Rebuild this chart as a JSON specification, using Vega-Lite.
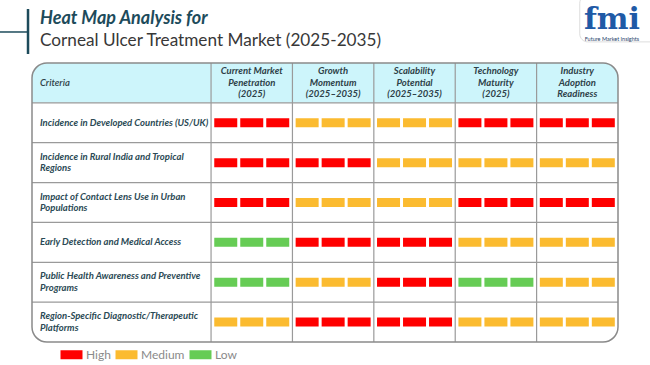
{
  "$schema": "https://vega.github.io/schema/vega-lite/v6.json",
  "width": 586,
  "height": 279,
  "autosize": "none",
  "padding": {"left": 32, "top": 63, "right": 32, "bottom": 23},
  "background": "white",
  "config": {"view": {"stroke": null}},
  "datasets": {
    "one": [{}],
    "rows": [
      {"r": 1, "criteria": "Incidence in Developed Countries (US/UK)"},
      {"r": 2, "criteria": "Incidence in Rural India and Tropical\nRegions"},
      {"r": 3, "criteria": "Impact of Contact Lens Use in Urban\nPopulations"},
      {"r": 4, "criteria": "Early Detection and Medical Access"},
      {"r": 5, "criteria": "Public Health Awareness and Preventive\nPrograms"},
      {"r": 6, "criteria": "Region-Specific Diagnostic/Therapeutic\nPlatforms"}
    ],
    "cols": [
      {"c": 1, "label": "Current Market\nPenetration\n(2025)"},
      {"c": 2, "label": "Growth\nMomentum\n(2025–2035)"},
      {"c": 3, "label": "Scalability\nPotential\n(2025–2035)"},
      {"c": 4, "label": "Technology\nMaturity\n(2025)"},
      {"c": 5, "label": "Industry\nAdoption\nReadiness"}
    ],
    "cells": [
      {"r": 1, "c": 1, "level": "High"},
      {"r": 1, "c": 2, "level": "Medium"},
      {"r": 1, "c": 3, "level": "Medium"},
      {"r": 1, "c": 4, "level": "High"},
      {"r": 1, "c": 5, "level": "High"},
      {"r": 2, "c": 1, "level": "High"},
      {"r": 2, "c": 2, "level": "High"},
      {"r": 2, "c": 3, "level": "Medium"},
      {"r": 2, "c": 4, "level": "Medium"},
      {"r": 2, "c": 5, "level": "Medium"},
      {"r": 3, "c": 1, "level": "High"},
      {"r": 3, "c": 2, "level": "Medium"},
      {"r": 3, "c": 3, "level": "Medium"},
      {"r": 3, "c": 4, "level": "High"},
      {"r": 3, "c": 5, "level": "High"},
      {"r": 4, "c": 1, "level": "Low"},
      {"r": 4, "c": 2, "level": "High"},
      {"r": 4, "c": 3, "level": "High"},
      {"r": 4, "c": 4, "level": "Medium"},
      {"r": 4, "c": 5, "level": "Medium"},
      {"r": 5, "c": 1, "level": "Low"},
      {"r": 5, "c": 2, "level": "Medium"},
      {"r": 5, "c": 3, "level": "High"},
      {"r": 5, "c": 4, "level": "Low"},
      {"r": 5, "c": 5, "level": "Medium"},
      {"r": 6, "c": 1, "level": "Medium"},
      {"r": 6, "c": 2, "level": "High"},
      {"r": 6, "c": 3, "level": "High"},
      {"r": 6, "c": 4, "level": "Medium"},
      {"r": 6, "c": 5, "level": "Medium"}
    ]
  },
  "layer": [
    {
      "data": {"name": "one"},
      "mark": {"type": "rect", "fill": "#cdf5fb", "cornerRadiusTopLeft": 15, "cornerRadiusTopRight": 15},
      "encoding": {
        "x": {"datum": 0, "type": "quantitative", "scale": {"domain": [0, 7.2], "nice": false, "zero": false}, "axis": null},
        "x2": {"datum": 7.2},
        "y": {"datum": 0, "type": "quantitative", "scale": {"domain": [0, 7], "nice": false, "zero": false, "reverse": true}, "axis": null},
        "y2": {"datum": 1}
      }
    },
    {
      "data": {"name": "rows"},
      "mark": {"type": "rule", "color": "#9a9a9a", "strokeWidth": 1.2},
      "encoding": {
        "x": {"datum": 0, "type": "quantitative", "scale": {"domain": [0, 7.2], "nice": false, "zero": false}, "axis": null},
        "x2": {"datum": 7.2},
        "y": {"field": "r", "type": "quantitative", "scale": {"domain": [0, 7], "nice": false, "zero": false, "reverse": true}, "axis": null}
      }
    },
    {
      "data": {"name": "cols"},
      "transform": [{"calculate": "1.2 + datum.c", "as": "xs"}],
      "mark": {"type": "rule", "color": "#9a9a9a", "strokeWidth": 1.2},
      "encoding": {
        "x": {"field": "xs", "type": "quantitative", "scale": {"domain": [0, 7.2], "nice": false, "zero": false}, "axis": null},
        "y": {"datum": 0, "type": "quantitative", "scale": {"domain": [0, 7], "nice": false, "zero": false, "reverse": true}, "axis": null},
        "y2": {"datum": 7}
      }
    },
    {
      "data": {"name": "one"},
      "mark": {"type": "rect", "fillOpacity": 0, "stroke": "#8a8a8a", "strokeWidth": 1.5, "cornerRadius": 15},
      "encoding": {
        "x": {"datum": 0, "type": "quantitative", "scale": {"domain": [0, 7.2], "nice": false, "zero": false}, "axis": null},
        "x2": {"datum": 7.2},
        "y": {"datum": 0, "type": "quantitative", "scale": {"domain": [0, 7], "nice": false, "zero": false, "reverse": true}, "axis": null},
        "y2": {"datum": 7}
      }
    },
    {
      "data": {"name": "cols"},
      "transform": [{"calculate": "1.7 + datum.c", "as": "xc"}],
      "mark": {"type": "text", "font": "Lato", "fontSize": 9.5, "fontStyle": "italic", "fontWeight": "bold", "color": "#2e4148", "align": "center", "baseline": "middle", "lineBreak": "\n", "lineHeight": 11.5, "dy": -11.5},
      "encoding": {
        "x": {"field": "xc", "type": "quantitative", "scale": {"domain": [0, 7.2], "nice": false, "zero": false}, "axis": null},
        "y": {"datum": 0.5, "type": "quantitative", "scale": {"domain": [0, 7], "nice": false, "zero": false, "reverse": true}, "axis": null},
        "text": {"field": "label"}
      }
    },
    {
      "data": {"name": "one"},
      "mark": {"type": "text", "text": "Criteria", "font": "Lato", "fontSize": 9.5, "fontStyle": "italic", "fontWeight": 600, "color": "#2e4148", "align": "left", "baseline": "middle", "dx": 8},
      "encoding": {
        "x": {"datum": 0, "type": "quantitative", "scale": {"domain": [0, 7.2], "nice": false, "zero": false}, "axis": null},
        "y": {"datum": 0.5, "type": "quantitative", "scale": {"domain": [0, 7], "nice": false, "zero": false, "reverse": true}, "axis": null}
      }
    },
    {
      "data": {"name": "rows"},
      "transform": [{"calculate": "datum.r + 0.5 - (length(split(datum.criteria, '\\n')) - 1) * 0.1443", "as": "yc"}],
      "mark": {"type": "text", "font": "Lato", "fontSize": 9.5, "fontStyle": "italic", "fontWeight": "bold", "color": "#2b4a55", "align": "left", "baseline": "middle", "dx": 8, "lineBreak": "\n", "lineHeight": 11.5},
      "encoding": {
        "x": {"datum": 0, "type": "quantitative", "scale": {"domain": [0, 7.2], "nice": false, "zero": false}, "axis": null},
        "y": {"field": "yc", "type": "quantitative", "scale": {"domain": [0, 7], "nice": false, "zero": false, "reverse": true}, "axis": null},
        "text": {"field": "criteria"}
      }
    },
    {
      "data": {"name": "cells"},
      "transform": [
        {"calculate": "1.7 + datum.c - 0.4607", "as": "x1"},
        {"calculate": "1.7 + datum.c + 0.4607", "as": "x2"},
        {"calculate": "datum.r + 0.5", "as": "yc"}
      ],
      "mark": {"type": "rule", "strokeWidth": 9, "strokeDash": [23, 3], "strokeCap": "butt", "opacity": 1},
      "encoding": {
        "x": {"field": "x1", "type": "quantitative", "scale": {"domain": [0, 7.2], "nice": false, "zero": false}, "axis": null},
        "x2": {"field": "x2"},
        "y": {"field": "yc", "type": "quantitative", "scale": {"domain": [0, 7], "nice": false, "zero": false, "reverse": true}, "axis": null},
        "color": {
          "field": "level",
          "type": "nominal",
          "scale": {"domain": ["High", "Medium", "Low"], "range": ["#ff0000", "#fbbb30", "#66cc55"]},
          "legend": {
            "title": null,
            "orient": "none",
            "legendX": 24,
            "legendY": 276,
            "direction": "horizontal",
            "symbolType": "stroke",
            "symbolSize": 484,
            "symbolStrokeWidth": 9,
            "symbolOpacity": 1,
            "labelFont": "Lato",
            "labelFontSize": 12,
            "labelColor": "#8a8a8a",
            "labelOffset": -1,
            "columnPadding": -15,
            "padding": 0
          }
        }
      }
    },
    {
      "data": {"name": "one"},
      "mark": {"type": "rule", "color": "#1d4b5b", "strokeWidth": 2.5},
      "encoding": {
        "x": {"datum": -0.049, "type": "quantitative", "scale": {"domain": [0, 7.2], "nice": false, "zero": false}, "axis": null},
        "y": {"datum": -1.355, "type": "quantitative", "scale": {"domain": [0, 7], "nice": false, "zero": false, "reverse": true}, "axis": null},
        "y2": {"datum": -0.226}
      }
    },
    {
      "data": {"name": "one"},
      "mark": {"type": "rule", "color": "#1d4b5b", "strokeWidth": 1.5},
      "encoding": {
        "x": {"datum": -0.4, "type": "quantitative", "scale": {"domain": [0, 7.2], "nice": false, "zero": false}, "axis": null},
        "x2": {"datum": -0.049},
        "y": {"datum": -0.778, "type": "quantitative", "scale": {"domain": [0, 7], "nice": false, "zero": false, "reverse": true}, "axis": null}
      }
    },
    {
      "data": {"name": "one"},
      "mark": {"type": "text", "text": "Heat Map Analysis for", "font": "Lato", "fontSize": 18, "fontStyle": "italic", "fontWeight": "bold", "color": "#1d4b5b", "align": "left", "baseline": "alphabetic", "dx": 8},
      "encoding": {
        "x": {"datum": 0, "type": "quantitative", "scale": {"domain": [0, 7.2], "nice": false, "zero": false}, "axis": null},
        "y": {"datum": -0.98, "type": "quantitative", "scale": {"domain": [0, 7], "nice": false, "zero": false, "reverse": true}, "axis": null}
      }
    },
    {
      "data": {"name": "one"},
      "mark": {"type": "text", "text": "Corneal Ulcer Treatment Market (2025-2035)", "font": "Lato", "fontSize": 17.2, "color": "#383838", "align": "left", "baseline": "alphabetic", "dx": 8},
      "encoding": {
        "x": {"datum": 0, "type": "quantitative", "scale": {"domain": [0, 7.2], "nice": false, "zero": false}, "axis": null},
        "y": {"datum": -0.42, "type": "quantitative", "scale": {"domain": [0, 7], "nice": false, "zero": false, "reverse": true}, "axis": null}
      }
    },
    {
      "data": {"name": "one"},
      "mark": {"type": "rect", "fill": "white", "stroke": "#dddddd", "strokeWidth": 1, "cornerRadius": 8},
      "encoding": {
        "x": {"datum": 6.73, "type": "quantitative", "scale": {"domain": [0, 7.2], "nice": false, "zero": false}, "axis": null},
        "x2": {"datum": 7.8},
        "y": {"datum": -1.7, "type": "quantitative", "scale": {"domain": [0, 7], "nice": false, "zero": false, "reverse": true}, "axis": null},
        "y2": {"datum": -0.53}
      }
    },
    {
      "data": {"name": "one"},
      "mark": {"type": "text", "text": "fmi", "font": "DejaVu Serif", "fontSize": 30, "fontWeight": "bold", "color": "#1f5aa6", "align": "center", "baseline": "alphabetic"},
      "encoding": {
        "x": {"datum": 7.125, "type": "quantitative", "scale": {"domain": [0, 7.2], "nice": false, "zero": false}, "axis": null},
        "y": {"datum": -0.86, "type": "quantitative", "scale": {"domain": [0, 7], "nice": false, "zero": false, "reverse": true}, "axis": null}
      }
    },
    {
      "data": {"name": "one"},
      "mark": {"type": "text", "text": "Future Market Insights", "font": "Lato", "fontSize": 5.5, "color": "#1f3f6a", "align": "center", "baseline": "middle"},
      "encoding": {
        "x": {"datum": 7.125, "type": "quantitative", "scale": {"domain": [0, 7.2], "nice": false, "zero": false}, "axis": null},
        "y": {"datum": -0.6, "type": "quantitative", "scale": {"domain": [0, 7], "nice": false, "zero": false, "reverse": true}, "axis": null}
      }
    }
  ]
}
